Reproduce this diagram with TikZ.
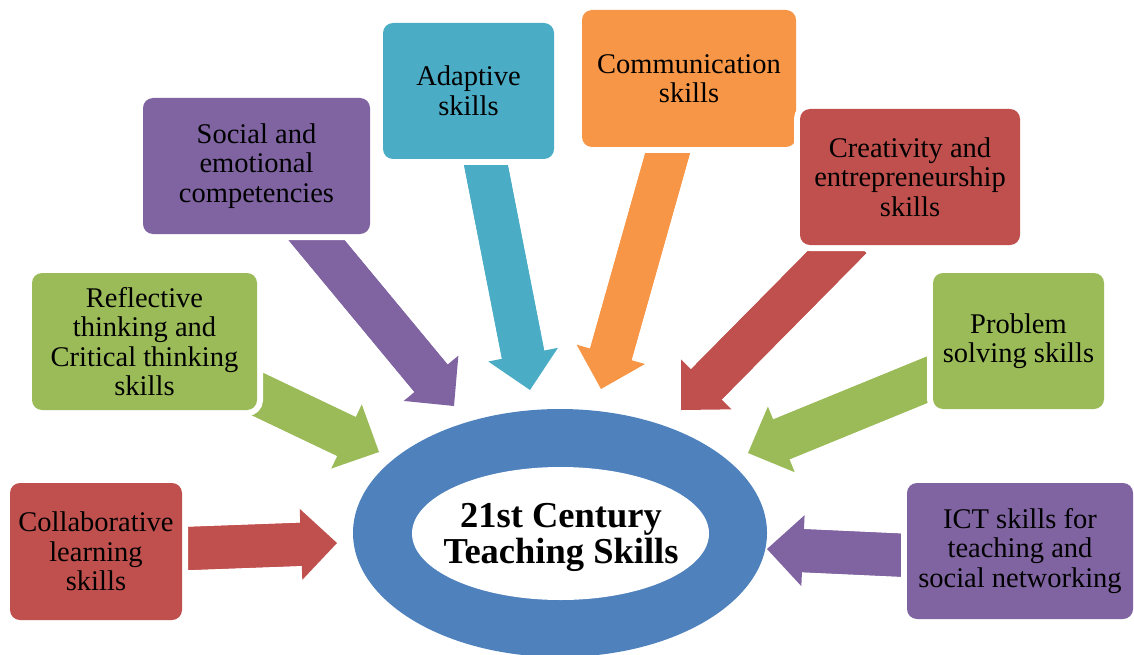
\documentclass[tikz,border=0pt]{standalone}
\usepackage{fontspec}
\setmainfont{Liberation Serif}
\usetikzlibrary{arrows.meta}
\definecolor{cred}{HTML}{C0504D}
\definecolor{cgreen}{HTML}{9BBB59}
\definecolor{cpurple}{HTML}{8064A2}
\definecolor{ccyan}{HTML}{4BACC6}
\definecolor{corange}{HTML}{F79646}
\definecolor{cblue}{HTML}{4F81BD}
\newcommand{\skillfont}{\fontsize{28.5}{29.5}\selectfont}
\newcommand{\hubfont}{\bfseries\fontsize{36.5}{36}\selectfont}
\tikzset{
  skillbox/.style={fill=#1, rounded corners=10pt, inner sep=2pt, align=center,
    font=\skillfont, text=black, preaction={draw=white, line width=12pt}},
  skillarrow/.style={draw=#1, line width=43pt, line cap=butt,
    -{Triangle[length=36pt, width=71pt, line width=0pt]},
    postaction={draw=#1, line width=43pt, -, shorten >=25pt}},
}
\begin{document}
\begin{tikzpicture}[x=1pt, y=-1pt]
\useasboundingbox (0,0) rectangle (1134,655);
% central hub
\fill[cblue] (560,533) ellipse [x radius=207pt, y radius=124pt];
\fill[white] (560.5,533.5) ellipse [x radius=148.5pt, y radius=66.5pt];
\node[font=\hubfont, align=center, inner sep=0pt] (hub) at (561,537) {21st Century\\Teaching Skills};
% arrow tails (inside boxes) and tips
\coordinate (t1) at (160,549.5);  \coordinate (h1) at (337,543);
\coordinate (t2) at (230,381);    \coordinate (h2) at (379,452);
\coordinate (t3) at (304,225);    \coordinate (h3) at (454,406);
\coordinate (t4) at (482,145);    \coordinate (h4) at (530,390);
\coordinate (t5) at (673,134);    \coordinate (h5) at (601,389);
\coordinate (t6) at (851,238);    \coordinate (h6) at (681,410);
\coordinate (t7) at (946,372);    \coordinate (h7) at (748,453);
\coordinate (t8) at (930,556.5);  \coordinate (h8) at (767,549);
\draw[skillarrow=cred]    (t1) -- (h1);
\draw[skillarrow=cgreen]  (t2) -- (h2);
\draw[skillarrow=cpurple] (t3) -- (h3);
\draw[skillarrow=ccyan]   (t4) -- (h4);
\draw[skillarrow=corange] (t5) -- (h5);
\draw[skillarrow=cred]    (t6) -- (h6);
\draw[skillarrow=cgreen]  (t7) -- (h7);
\draw[skillarrow=cpurple] (t8) -- (h8);
% boxes
\node[skillbox=cred, minimum width=172pt, minimum height=137pt] (coll) at (96,551.5)
  {Collaborative\\learning\\skills};
\node[skillbox=cgreen, minimum width=225pt, minimum height=137pt] (refl) at (144.5,341.5)
  {Reflective\\thinking and\\Critical thinking\\skills};
\node[skillbox=cpurple, minimum width=227pt, minimum height=136pt] (soc) at (256.5,166)
  {Social and\\emotional\\competencies};
\node[skillbox=ccyan, minimum width=171pt, minimum height=136pt] (adap) at (468.5,91)
  {Adaptive\\skills};
\node[skillbox=corange, minimum width=214pt, minimum height=137pt] (comm) at (689,78.5)
  {Communication\\skills};
\node[skillbox=cred, minimum width=220pt, minimum height=136pt] (crea) at (910,177)
  {Creativity and\\entrepreneurship\\skills};
\node[skillbox=cgreen, minimum width=171pt, minimum height=136pt] (prob) at (1018.5,341)
  {Problem\\solving skills};
\node[skillbox=cpurple, minimum width=226pt, minimum height=136pt] (ict) at (1020,551)
  {ICT skills for\\teaching and\\social networking};
\end{tikzpicture}
\end{document}
